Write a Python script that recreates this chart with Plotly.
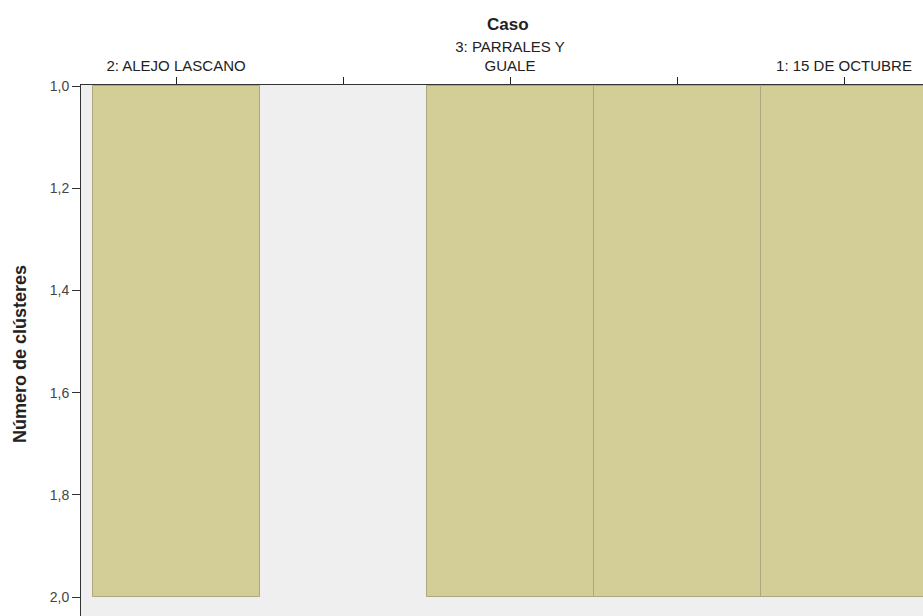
import plotly.graph_objects as go

# icicle columns: cases and the joins between them
column_pos = [1, 2, 3, 4, 5]
column_labels = ['2: ALEJO LASCANO', '', '3: PARRALES Y<br>GUALE', '', '1: 15 DE OCTUBRE']
clusters_from = [1, None, 1, 1, 1]
clusters_to = [2, None, 2, 2, 2]

y_ticks = [1.0, 1.2, 1.4, 1.6, 1.8, 2.0]
y_tick_text = ['1,0', '1,2', '1,4', '1,6', '1,8', '2,0']

bar_x = [p for p, f in zip(column_pos, clusters_from) if f is not None]
bar_base = [f for f in clusters_from if f is not None]
bar_len = [t - f for f, t in zip(clusters_from, clusters_to) if f is not None]

fig = go.Figure()
fig.add_trace(go.Bar(x=bar_x, y=bar_len, base=bar_base, width=1,
                     marker=dict(color='#D3CE98', line=dict(color='#ABA77F', width=1)),
                     hoverinfo='skip'))

fig.update_layout(
    width=923, height=616,
    margin=dict(l=81, r=0, t=85, b=0),
    paper_bgcolor='white', plot_bgcolor='#EFEFEF',
    showlegend=False, bargap=0,
    font=dict(family='Liberation Sans, Arial, sans-serif', size=15, color='#222'),
)
fig.update_xaxes(range=[0.431, 5.473], side='top', tickmode='array',
                 tickvals=column_pos, ticktext=column_labels,
                 ticks='outside', ticklen=7, tickwidth=1, tickcolor='#222',
                 showline=True, linecolor='#333', linewidth=1,
                 showgrid=False, zeroline=False,
                 tickfont=dict(size=15, color='#222'))
fig.update_yaxes(range=[2.037, 0.998], tickmode='array',
                 tickvals=y_ticks, ticktext=y_tick_text,
                 ticks='outside', ticklen=8, tickwidth=1, tickcolor='#333',
                 showline=True, linecolor='#333', linewidth=1,
                 showgrid=False, zeroline=False,
                 tickfont=dict(size=14, color='#444'))

fig.add_annotation(text='<b>Caso</b>', xref='paper', yref='paper',
                   x=(508 - 81) / 842, y=1 + (85 - 25) / 531,
                   xanchor='center', yanchor='middle', showarrow=False,
                   font=dict(size=17, color='#222'))
fig.add_annotation(text='<b>Número de clústeres</b>', xref='paper', yref='paper',
                   x=(20 - 81) / 842, y=1 - (354 - 85) / 531, textangle=-90,
                   xanchor='center', yanchor='middle', showarrow=False,
                   font=dict(size=18, color='#222'))

# drop the page's default body margin so the figure fills the window
fig.write_html('out.html', config={'displayModeBar': False},
               post_script="document.body.style.margin='0';")
